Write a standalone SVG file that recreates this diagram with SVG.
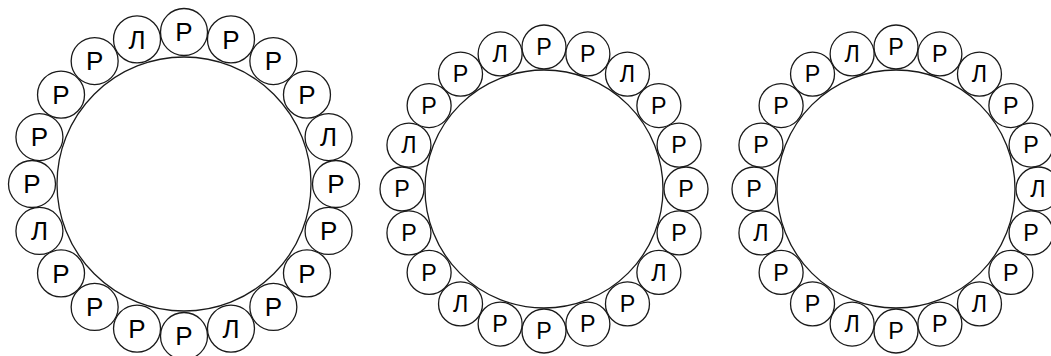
<svg xmlns="http://www.w3.org/2000/svg" width="1051" height="356" viewBox="0 0 1051 356">
<style>
.big{fill:#fff;stroke:#1a1a1a;stroke-width:1.3}
.sm{fill:#fff;stroke:#1a1a1a;stroke-width:1.3}
text{font-family:"Liberation Sans",Arial,sans-serif;text-anchor:middle;fill:#000}
.a text{font-size:26px}
.b text{font-size:23.3px}
</style>
<rect width="1051" height="356" fill="#fff"/>
<g id="ring1" class="a">
<circle id="ring1-core" class="big" cx="184" cy="184" r="127"/>
<g id="r1n0"><circle class="sm" cx="184" cy="32" r="23.5"/><text x="184" y="41.3">Р</text></g>
<g id="r1n1"><circle class="sm" cx="230.97" cy="39.43" r="23.5"/><text x="230.97" y="48.73">Р</text></g>
<g id="r1n2"><circle class="sm" cx="273.35" cy="61.03" r="23.5"/><text x="273.35" y="70.33">Р</text></g>
<g id="r1n3"><circle class="sm" cx="306.97" cy="94.65" r="23.5"/><text x="306.97" y="103.95">Р</text></g>
<g id="r1n4"><circle class="sm" cx="328.57" cy="137.03" r="23.5"/><text x="328.57" y="146.33">Л</text></g>
<g id="r1n5"><circle class="sm" cx="336" cy="184" r="23.5"/><text x="336" y="193.3">Р</text></g>
<g id="r1n6"><circle class="sm" cx="328.57" cy="230.97" r="23.5"/><text x="328.57" y="240.27">Р</text></g>
<g id="r1n7"><circle class="sm" cx="306.97" cy="273.35" r="23.5"/><text x="306.97" y="282.65">Р</text></g>
<g id="r1n8"><circle class="sm" cx="273.35" cy="306.97" r="23.5"/><text x="273.35" y="316.27">Р</text></g>
<g id="r1n9"><circle class="sm" cx="230.97" cy="328.57" r="23.5"/><text x="230.97" y="337.87">Л</text></g>
<g id="r1n10"><circle class="sm" cx="184" cy="336" r="23.5"/><text x="184" y="345.3">Р</text></g>
<g id="r1n11"><circle class="sm" cx="137.03" cy="328.57" r="23.5"/><text x="137.03" y="337.87">Р</text></g>
<g id="r1n12"><circle class="sm" cx="94.65" cy="306.97" r="23.5"/><text x="94.65" y="316.27">Р</text></g>
<g id="r1n13"><circle class="sm" cx="61.03" cy="273.35" r="23.5"/><text x="61.03" y="282.65">Р</text></g>
<g id="r1n14"><circle class="sm" cx="39.43" cy="230.97" r="23.5"/><text x="39.43" y="240.27">Л</text></g>
<g id="r1n15"><circle class="sm" cx="32" cy="184" r="23.5"/><text x="32" y="193.3">Р</text></g>
<g id="r1n16"><circle class="sm" cx="39.43" cy="137.03" r="23.5"/><text x="39.43" y="146.33">Р</text></g>
<g id="r1n17"><circle class="sm" cx="61.03" cy="94.65" r="23.5"/><text x="61.03" y="103.95">Р</text></g>
<g id="r1n18"><circle class="sm" cx="94.65" cy="61.03" r="23.5"/><text x="94.65" y="70.33">Р</text></g>
<g id="r1n19"><circle class="sm" cx="137.03" cy="39.43" r="23.5"/><text x="137.03" y="48.73">Л</text></g>
</g>
<g id="ring2" class="b">
<circle id="ring2-core" class="big" cx="544" cy="189" r="119"/>
<g id="r2n0"><circle class="sm" cx="544" cy="47" r="22"/><text x="544" y="55.3">Р</text></g>
<g id="r2n1"><circle class="sm" cx="587.88" cy="53.94" r="22"/><text x="587.88" y="62.24">Р</text></g>
<g id="r2n2"><circle class="sm" cx="627.47" cy="74.12" r="22"/><text x="627.47" y="82.42">Л</text></g>
<g id="r2n3"><circle class="sm" cx="658.88" cy="105.53" r="22"/><text x="658.88" y="113.83">Р</text></g>
<g id="r2n4"><circle class="sm" cx="679.06" cy="145.12" r="22"/><text x="679.06" y="153.42">Р</text></g>
<g id="r2n5"><circle class="sm" cx="686" cy="189" r="22"/><text x="686" y="197.3">Р</text></g>
<g id="r2n6"><circle class="sm" cx="679.06" cy="232.88" r="22"/><text x="679.06" y="241.18">Р</text></g>
<g id="r2n7"><circle class="sm" cx="658.88" cy="272.47" r="22"/><text x="658.88" y="280.77">Л</text></g>
<g id="r2n8"><circle class="sm" cx="627.47" cy="303.88" r="22"/><text x="627.47" y="312.18">Р</text></g>
<g id="r2n9"><circle class="sm" cx="587.88" cy="324.06" r="22"/><text x="587.88" y="332.36">Р</text></g>
<g id="r2n10"><circle class="sm" cx="544" cy="331" r="22"/><text x="544" y="339.3">Р</text></g>
<g id="r2n11"><circle class="sm" cx="500.12" cy="324.06" r="22"/><text x="500.12" y="332.36">Р</text></g>
<g id="r2n12"><circle class="sm" cx="460.53" cy="303.88" r="22"/><text x="460.53" y="312.18">Л</text></g>
<g id="r2n13"><circle class="sm" cx="429.12" cy="272.47" r="22"/><text x="429.12" y="280.77">Р</text></g>
<g id="r2n14"><circle class="sm" cx="408.94" cy="232.88" r="22"/><text x="408.94" y="241.18">Р</text></g>
<g id="r2n15"><circle class="sm" cx="402" cy="189" r="22"/><text x="402" y="197.3">Р</text></g>
<g id="r2n16"><circle class="sm" cx="408.94" cy="145.12" r="22"/><text x="408.94" y="153.42">Л</text></g>
<g id="r2n17"><circle class="sm" cx="429.12" cy="105.53" r="22"/><text x="429.12" y="113.83">Р</text></g>
<g id="r2n18"><circle class="sm" cx="460.53" cy="74.12" r="22"/><text x="460.53" y="82.42">Р</text></g>
<g id="r2n19"><circle class="sm" cx="500.12" cy="53.94" r="22"/><text x="500.12" y="62.24">Л</text></g>
</g>
<g id="ring3" class="b">
<circle id="ring3-core" class="big" cx="896" cy="189" r="119"/>
<g id="r3n0"><circle class="sm" cx="896" cy="47" r="22"/><text x="896" y="55.3">Р</text></g>
<g id="r3n1"><circle class="sm" cx="939.88" cy="53.94" r="22"/><text x="939.88" y="62.24">Р</text></g>
<g id="r3n2"><circle class="sm" cx="979.47" cy="74.12" r="22"/><text x="979.47" y="82.42">Л</text></g>
<g id="r3n3"><circle class="sm" cx="1010.88" cy="105.53" r="22"/><text x="1010.88" y="113.83">Р</text></g>
<g id="r3n4"><circle class="sm" cx="1031.06" cy="145.12" r="22"/><text x="1031.06" y="153.42">Р</text></g>
<g id="r3n5"><circle class="sm" cx="1038" cy="189" r="22"/><text x="1038" y="197.3">Л</text></g>
<g id="r3n6"><circle class="sm" cx="1031.06" cy="232.88" r="22"/><text x="1031.06" y="241.18">Р</text></g>
<g id="r3n7"><circle class="sm" cx="1010.88" cy="272.47" r="22"/><text x="1010.88" y="280.77">Р</text></g>
<g id="r3n8"><circle class="sm" cx="979.47" cy="303.88" r="22"/><text x="979.47" y="312.18">Л</text></g>
<g id="r3n9"><circle class="sm" cx="939.88" cy="324.06" r="22"/><text x="939.88" y="332.36">Р</text></g>
<g id="r3n10"><circle class="sm" cx="896" cy="331" r="22"/><text x="896" y="339.3">Р</text></g>
<g id="r3n11"><circle class="sm" cx="852.12" cy="324.06" r="22"/><text x="852.12" y="332.36">Л</text></g>
<g id="r3n12"><circle class="sm" cx="812.53" cy="303.88" r="22"/><text x="812.53" y="312.18">Р</text></g>
<g id="r3n13"><circle class="sm" cx="781.12" cy="272.47" r="22"/><text x="781.12" y="280.77">Р</text></g>
<g id="r3n14"><circle class="sm" cx="760.94" cy="232.88" r="22"/><text x="760.94" y="241.18">Л</text></g>
<g id="r3n15"><circle class="sm" cx="754" cy="189" r="22"/><text x="754" y="197.3">Р</text></g>
<g id="r3n16"><circle class="sm" cx="760.94" cy="145.12" r="22"/><text x="760.94" y="153.42">Р</text></g>
<g id="r3n17"><circle class="sm" cx="781.12" cy="105.53" r="22"/><text x="781.12" y="113.83">Р</text></g>
<g id="r3n18"><circle class="sm" cx="812.53" cy="74.12" r="22"/><text x="812.53" y="82.42">Р</text></g>
<g id="r3n19"><circle class="sm" cx="852.12" cy="53.94" r="22"/><text x="852.12" y="62.24">Л</text></g>
</g>
</svg>
